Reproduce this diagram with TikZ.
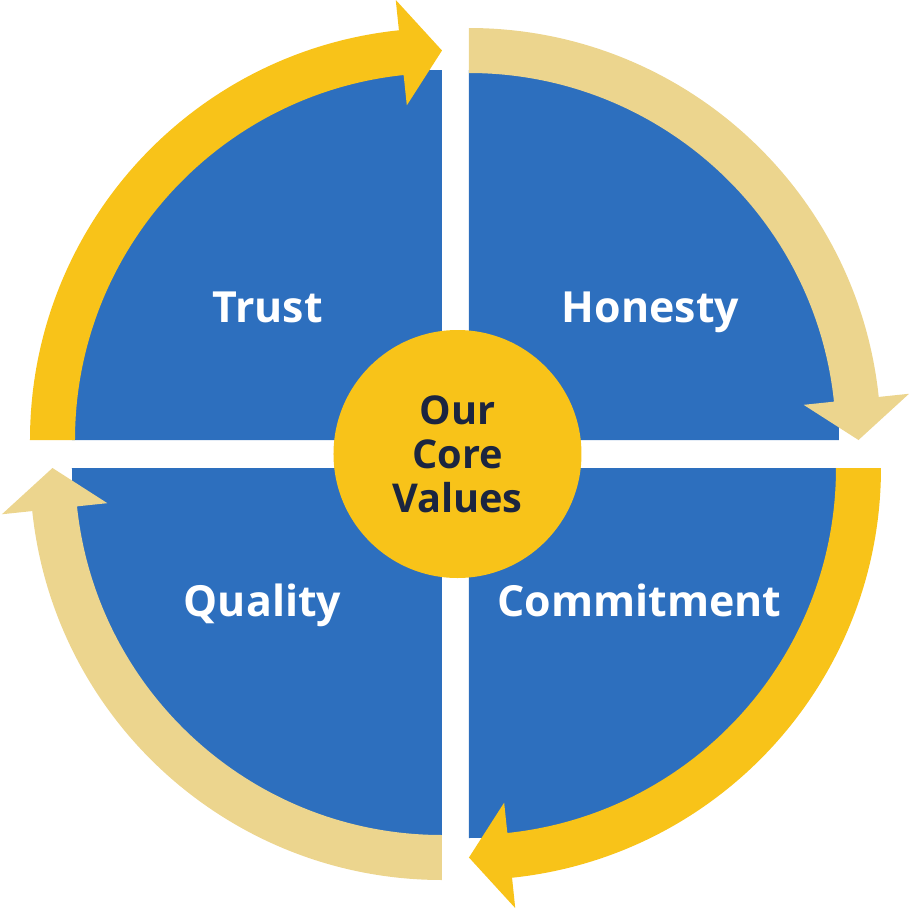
\documentclass[tikz,border=0pt]{standalone}
\usepackage{fontspec}
\setmainfont{Open Sans}
\usepackage{tikz}

\definecolor{coreblue}{RGB}{45,111,190}
\definecolor{coreyellow}{RGB}{248,195,25}
\definecolor{coretan}{RGB}{236,213,142}
\definecolor{corenavy}{RGB}{27,37,64}

\begin{document}
\begin{tikzpicture}
  \tikzstyle{sector} = [fill=coreblue]
  \tikzstyle{value} = [text=white, anchor=base, font=\bfseries\fontsize{12.2}{15}\selectfont]
  \tikzstyle{core} = [circle, fill=coreyellow, text=corenavy, minimum size=2.48cm, inner sep=0pt, align=center, font=\bfseries\fontsize{11.3}{12.5}\selectfont]
  \useasboundingbox (-4.555,-4.60) rectangle (4.585,4.54);

  % top left
  \begin{scope}[shift={(-0.135,0.14)}]
    \fill[sector] (0,0) -- (180:3.7) arc[start angle=180, end angle=90, radius=3.7] -- cycle;
    \fill[coreyellow] (180:4.12) arc[start angle=180, end angle=96, radius=4.12] -- (96:4.425) -- (90:3.895)
      -- (96:3.365) -- (96:3.67) arc[start angle=96, end angle=180, radius=3.67] -- cycle;
  \end{scope}

  % top right
  \begin{scope}[shift={(0.135,0.14)}]
    \fill[sector] (0,0) -- (90:3.7) arc[start angle=90, end angle=0, radius=3.7] -- cycle;
    \fill[coretan] (90:4.12) arc[start angle=90, end angle=6, radius=4.12] -- (6:4.425) -- (0:3.895)
      -- (6:3.365) -- (6:3.67) arc[start angle=6, end angle=90, radius=3.67] -- cycle;
  \end{scope}

  % bottom right
  \begin{scope}[shift={(0.135,-0.14)}]
    \fill[sector] (0,0) -- (0:3.7) arc[start angle=0, end angle=-90, radius=3.7] -- cycle;
    \fill[coreyellow] (0:4.12) arc[start angle=0, end angle=-84, radius=4.12] -- (-84:4.425) -- (-90:3.895)
      -- (-84:3.365) -- (-84:3.67) arc[start angle=-84, end angle=0, radius=3.67] -- cycle;
  \end{scope}

  % bottom left
  \begin{scope}[shift={(-0.135,-0.14)}]
    \fill[sector] (0,0) -- (270:3.7) arc[start angle=270, end angle=180, radius=3.7] -- cycle;
    \fill[coretan] (270:4.12) arc[start angle=270, end angle=186, radius=4.12] -- (186:4.425) -- (180:3.895)
      -- (186:3.365) -- (186:3.67) arc[start angle=186, end angle=270, radius=3.67] -- cycle;
  \end{scope}

  \node[value] (trust) at (-1.88,1.32) {Trust};
  \node[value] (honesty) at (1.95,1.32) {Honesty};
  \node[value] (quality) at (-1.93,-1.62) {Quality};
  \node[value] (commitment) at (1.84,-1.62) {Commitment};

  \node[core] (c) at (0.02,0) {Our\\Core\\Values};

\end{tikzpicture}
\end{document}
